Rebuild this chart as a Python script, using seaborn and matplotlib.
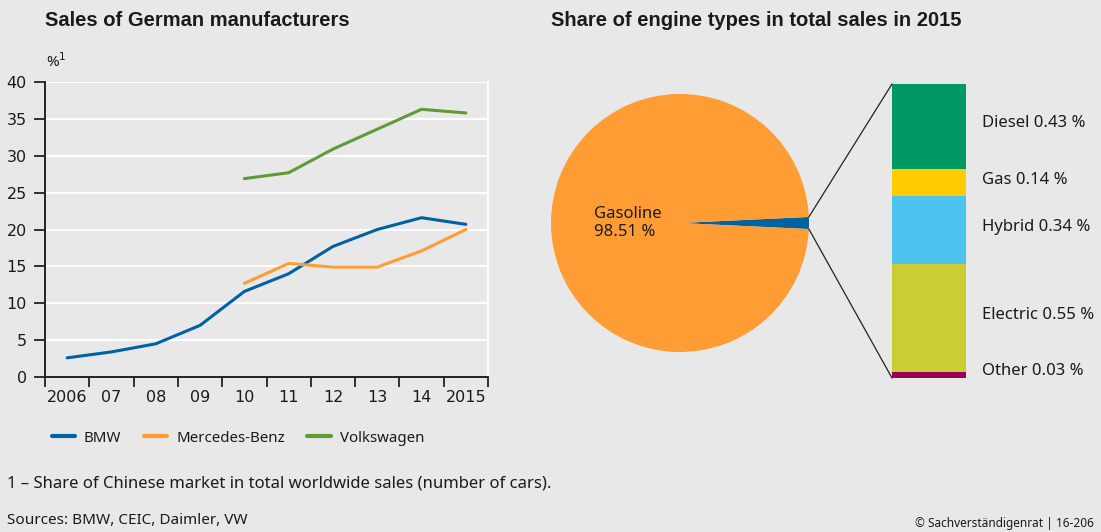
import numpy as np
import pandas as pd
import seaborn as sns
import matplotlib.pyplot as plt
from matplotlib.patches import ConnectionPatch

# line chart data (share of Chinese market in worldwide sales, %)
years = ['2006', '07', '08', '09', '10', '11', '12', '13', '14', '2015']
bmw = [2.6, 3.4, 4.5, 7.0, 11.6, 14.0, 17.7, 20.0, 21.6, 20.7]
mercedes = [np.nan, np.nan, np.nan, np.nan, 12.7, 15.4, 14.9, 14.9, 17.1, 20.0]
volkswagen = [np.nan, np.nan, np.nan, np.nan, 26.9, 27.7, 30.9, 33.6, 36.3, 35.8]

# pie / bar data
gasoline_share = 98.51
engine_types = ['Diesel', 'Gas', 'Hybrid', 'Electric', 'Other']
engine_shares = [0.43, 0.14, 0.34, 0.55, 0.03]

line_colors = {'BMW': '#0062a1', 'Mercedes-Benz': '#ff9c33', 'Volkswagen': '#5f9b36'}
engine_colors = ['#009966', '#ffcc00', '#4dc3f0', '#cccc33', '#990055']
bg = '#e8e8e8'
txt = '#1a1a1a'

sns.set_theme(style='white')
plt.rcParams['font.family'] = ['Noto Sans', 'DejaVu Sans']
plt.rcParams['text.color'] = txt

W, H = 1101, 532
fig = plt.figure(figsize=(W / 100, H / 100), dpi=100)
fig.patch.set_facecolor(bg)


def box(l, t, r, b):
    return [l / W, 1 - b / H, (r - l) / W, (b - t) / H]


# ---- left: line chart ----
ax = fig.add_axes(box(45, 82, 488, 377))
ax.set_facecolor(bg)
df = pd.DataFrame({'x': list(range(len(years))) * 3,
                   'value': bmw + mercedes + volkswagen,
                   'maker': ['BMW'] * 10 + ['Mercedes-Benz'] * 10 + ['Volkswagen'] * 10})
df = df.dropna()
sns.lineplot(data=df, x='x', y='value', hue='maker', palette=line_colors,
             linewidth=2.2, ax=ax)

ax.set_xlim(-0.5, 9.5)
ax.set_ylim(0, 40)
ax.set_yticks(range(0, 41, 5))
ax.set_xticks(np.arange(-0.5, 10, 1))
ax.set_xticklabels([])
ax.set_xticks(range(10), minor=True)
ax.set_xticklabels(years, minor=True, family='DejaVu Sans', fontsize=11.5, color=txt)
ax.tick_params(axis='x', which='major', length=7, width=1.3, color='#222222', direction='out', bottom=True)
ax.tick_params(axis='x', which='minor', length=0, pad=9, bottom=True)
ax.tick_params(axis='y', length=8, width=1.3, color='#222222', direction='out', left=True, pad=5)
for lbl in ax.get_yticklabels():
    lbl.set_family('DejaVu Sans')
    lbl.set_fontsize(11.5)
    lbl.set_color(txt)
ax.yaxis.grid(True, color='white', linewidth=1.4)
ax.set_axisbelow(True)
ax.set_xlabel('')
ax.set_ylabel('')
for s in ['left', 'bottom']:
    ax.spines[s].set_color('#222222')
    ax.spines[s].set_linewidth(1.4)
ax.spines['top'].set_visible(False)
ax.spines['right'].set_color('white')
ax.spines['right'].set_linewidth(1.4)

handles, labels = ax.get_legend_handles_labels()
leg = ax.legend(handles, labels, loc='center left', bbox_to_anchor=(38 / W, 1 - 438 / H),
                bbox_transform=fig.transFigure, ncol=3, frameon=False, fontsize=10.8,
                handlelength=1.55, handletextpad=0.6, columnspacing=1.5)
for ln in leg.get_lines():
    ln.set_linewidth(3)

fig.text(45 / W, 1 - 21 / H, 'Sales of German manufacturers', fontsize=14.5,
         fontweight='bold', family='Liberation Sans', va='center', ha='left')
fig.text(46 / W, 1 - 62 / H, '%$^1$', fontsize=11, va='center', ha='left')

# ---- right: pie ----
pax = fig.add_axes(box(551, 94, 809, 352))
pax.set_facecolor(bg)
small_total = sum(engine_shares)
half = small_total * 360 / 200
pax.pie([small_total, gasoline_share], colors=['#0062a1', '#ff9c33'],
        startangle=-half, counterclock=True, radius=1,
        wedgeprops=dict(linewidth=0))
pax.set_xlim(-1, 1)
pax.set_ylim(-1, 1)
pax.set_aspect('equal')
pax.axis('off')
pax.text(-0.67, 0.0, 'Gasoline\n%.2f %%' % gasoline_share, fontsize=12,
         va='center', ha='left', linespacing=1.25)

# ---- right: stacked bar ----
bax = fig.add_axes(box(892, 84, 966, 378))
bax.set_facecolor(bg)
bottom = 0
for name, val, col in zip(engine_types[::-1], engine_shares[::-1], engine_colors[::-1]):
    bax.bar(0, val, bottom=bottom, color=col, width=1, linewidth=0)
    bax.text(0.716, bottom + val / 2 + (0.02 if name == 'Other' else 0.015),
             '%s %.2f %%' % (name, val), fontsize=12, va='center', ha='left')
    bottom += val
bax.set_xlim(-0.5, 0.5)
bax.set_ylim(0, small_total)
bax.axis('off')

rad = np.deg2rad(half)
for yb, sgn in [(small_total, 1), (0, -1)]:
    con = ConnectionPatch(xyA=(np.cos(rad), sgn * np.sin(rad)), coordsA=pax.transData,
                          xyB=(-0.5, yb), coordsB=bax.transData,
                          color='#222222', linewidth=0.9)
    fig.add_artist(con)

fig.text(551 / W, 1 - 21 / H, 'Share of engine types in total sales in 2015', fontsize=14.5,
         fontweight='bold', family='Liberation Sans', va='center', ha='left')

# ---- footnotes ----
fig.text(7 / W, 1 - 484 / H, '1 – Share of Chinese market in total worldwide sales (number of cars).',
         fontsize=12, va='center', ha='left')
fig.text(7 / W, 1 - 520 / H, 'Sources: BMW, CEIC, Daimler, VW', fontsize=11, va='center', ha='left')
fig.text(1094 / W, 1 - 524 / H, '© Sachverständigenrat | 16-206', fontsize=8.5,
         va='center', ha='right')

fig.savefig('out.png', dpi=100, facecolor=bg)
